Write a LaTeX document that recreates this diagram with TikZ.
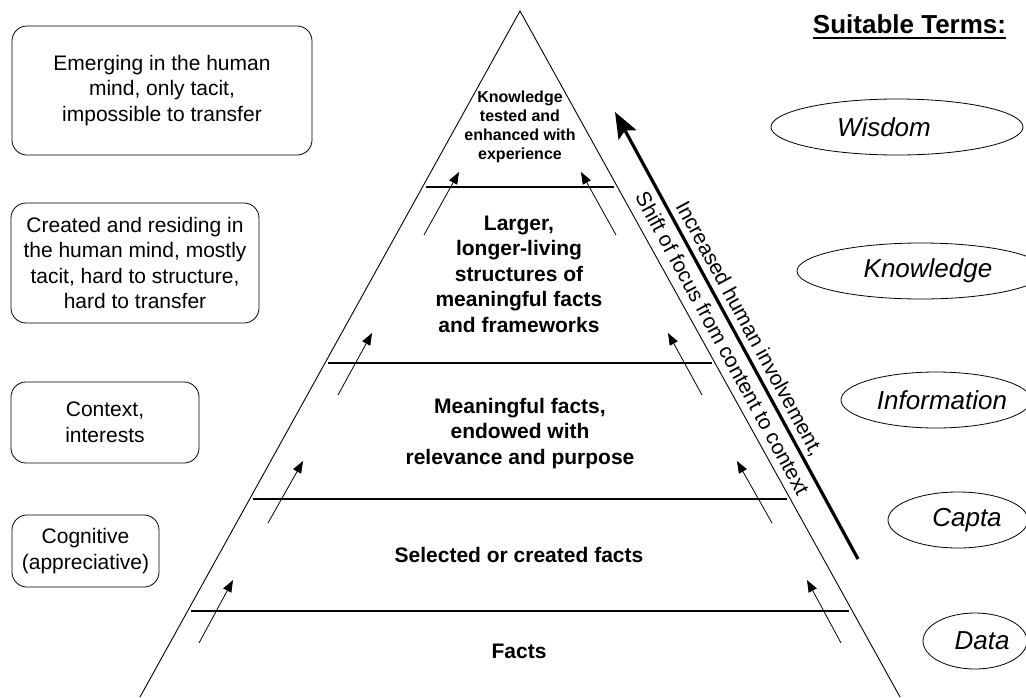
\documentclass[tikz,border=0pt]{standalone}
\usepackage{fontspec}
\setmainfont{Liberation Sans}
\usetikzlibrary{calc,shapes.geometric,arrows.meta}

\begin{document}
\begin{tikzpicture}[x=1pt,y=-1pt,
  infobox/.style={draw, rounded corners=15pt, line width=0.8pt, align=center,
    font=\fontsize{21}{25.5}\selectfont, inner sep=0pt},
  term/.style={draw, ellipse, line width=0.8pt, inner sep=0pt, minimum height=56pt},
  termtext/.style={font=\fontsize{26}{30}\selectfont\itshape, inner sep=0pt},
  layer/.style={align=center, font=\fontsize{21}{25.5}\selectfont\bfseries, inner sep=0pt},
  side/.style={line width=0.9pt},
  rung/.style={line width=1.1pt},
  climb/.style={line width=0.8pt, -{Triangle[length=12pt,width=9pt]}},
  trend/.style={line width=3.2pt, -{Stealth[length=26pt,width=20pt,inset=5pt]}},
  slopetext/.style={font=\fontsize{21}{25}\selectfont}
]
\useasboundingbox (0,0) rectangle (1026,697);

% pyramid outline
\coordinate (apex) at (520,11);
\coordinate (bl) at (140,697);
\coordinate (br) at (900,697);
\draw[side] (bl) -- (apex) -- (br);

% level separators, slightly inset from the sides
\foreach \y/\n in {187/a,363/b,499/c,611/d}{
  \coordinate (l\n) at ($(apex)!{(\y-11)/686}!(bl)$);
  \coordinate (r\n) at ($(apex)!{(\y-11)/686}!(br)$);
  \draw[rung] ([xshift=3pt]l\n) -- ([xshift=-3pt]r\n);
}

% small arrows climbing from one level to the next, left and right
\foreach \tx/\ty/\hx/\hy/\n in {199/643/233/580/d, 268/523/303/461/c, 338/395/372/333/b, 424/235/459/172/a}{
  \coordinate (clt\n) at (\tx,\ty);
  \coordinate (clh\n) at (\hx,\hy);
  \coordinate (crt\n) at (1040-\tx,\ty);
  \coordinate (crh\n) at (1040-\hx,\hy);
  \draw[climb] (clt\n) -- (clh\n);
  \draw[climb] (crt\n) -- (crh\n);
}

% level contents
\node[layer, font=\fontsize{16}{19}\selectfont\bfseries] (wisdomtxt) at (520,127.3)
  {Knowledge\\tested and\\enhanced with\\experience};
\node[layer] (knowtxt) at (519,274)
  {Larger,\\longer-living\\structures of\\meaningful facts\\and frameworks};
\node[layer] (infotxt) at (520,433.5)
  {Meaningful facts,\\endowed with\\relevance and purpose};
\node[layer, anchor=base] (captatxt) at (519,562) {Selected or created facts};
\node[layer, anchor=base] (datatxt) at (519,658) {Facts};

% the overall trend arrow along the right side
\coordinate (trendtail) at (858,559);
\coordinate (trendhead) at (615,112);
\draw[trend] (trendtail) -- (trendhead);
\path (trendhead) -- (trendtail)
  node[midway, sloped, above, slopetext, inner sep=5pt] (inv) {Increased human involvement,}
  node[midway, sloped, below, slopetext, inner sep=8pt] (shift) {Shift of focus from content to context};

% left-hand descriptions
\node[infobox, minimum width=300pt, minimum height=129pt] (b1) at (162,90.5)
  {Emerging in the human\\mind, only tacit,\\impossible to transfer};
\node[infobox, minimum width=248pt, minimum height=120pt] (b2) at (135,263)
  {Created and residing in\\the human mind, mostly\\tacit, hard to structure,\\hard to transfer};
\node[infobox, minimum width=188pt, minimum height=81pt] (b3) at (105,422.5)
  {Context,\\interests};
\node[infobox, minimum width=147pt, minimum height=72pt] (b4) at (85.5,551)
  {Cognitive\\(appreciative)};

% right-hand terms
\node[termtext, anchor=base, font=\fontsize{26}{30}\selectfont\bfseries] (heading) at (909.5,33) {Suitable Terms:};
\draw[line width=2pt] ([yshift=-5pt]heading.base west) -- ([yshift=-5pt]heading.base east);

\node[term, minimum width=252pt, label={[termtext,xshift=-13pt]center:Wisdom}] (wis) at (897,127) {};
\node[term, minimum width=248pt, label={[termtext,xshift=7pt]center:Knowledge}] (kno) at (921,271) {};
\node[term, minimum width=190pt, label={[termtext,xshift=6pt]center:Information}] (inf) at (936,400) {};
\node[term, minimum width=140pt, label={[termtext,xshift=9pt]center:Capta}] (cap) at (958,520) {};
\node[term, minimum width=104pt, label={[termtext,xshift=7pt]center:Data}] (dat) at (975,641) {};
\end{tikzpicture}
\end{document}
